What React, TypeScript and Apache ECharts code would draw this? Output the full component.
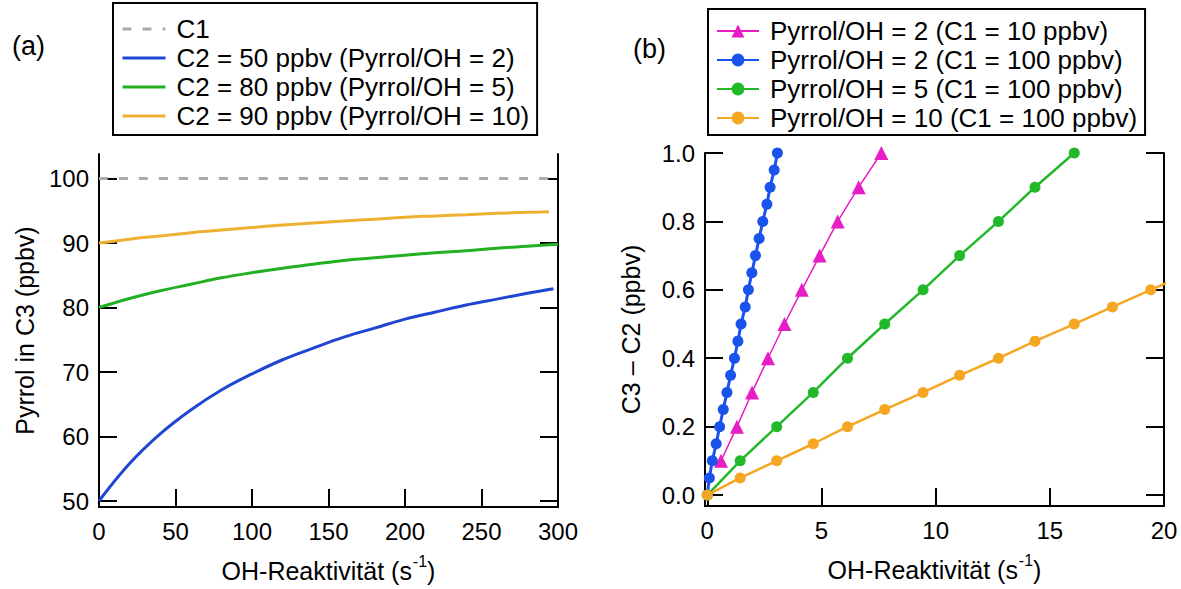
import React, { useEffect, useRef } from "react";
import * as echarts from "echarts";

// ---------- Panel (a) data ----------
const aTicksX = [0, 50, 100, 150, 200, 250, 300];
const aTicksY = [50, 60, 70, 80, 90, 100];
const c1X = [0, 300];
const c1Y = [100, 100];
const c2_50X = [0, 20, 40, 60, 80, 100, 120, 140, 160, 180, 200, 220, 240, 260, 280, 297];
const c2_50Y = [50, 55.8, 60.4, 64.1, 67.2, 69.7, 71.9, 73.7, 75.4, 76.8, 78.2, 79.3, 80.4, 81.3, 82.2, 82.9];
const c2_80X = [0, 20, 40, 60, 80, 100, 120, 140, 160, 180, 200, 220, 240, 260, 280, 300];
const c2_80Y = [80, 81.4, 82.6, 83.6, 84.6, 85.4, 86.1, 86.7, 87.3, 87.7, 88.1, 88.5, 88.8, 89.2, 89.5, 89.8];
const c2_90X = [0, 20, 40, 60, 80, 100, 120, 140, 160, 180, 200, 220, 240, 260, 280, 294];
const c2_90Y = [90, 90.6, 91.1, 91.6, 92.0, 92.4, 92.8, 93.1, 93.4, 93.7, 94.0, 94.2, 94.4, 94.6, 94.75, 94.85];

// ---------- Panel (b) data ----------
const bTicksX = [0, 5, 10, 15, 20];
const bTicksY = [0, 0.2, 0.4, 0.6, 0.8, 1.0];
const mag2X = [0.6, 1.3, 1.96, 2.66, 3.38, 4.14, 4.92, 5.71, 6.63, 7.62];
const mag2Y = [0.1, 0.2, 0.3, 0.4, 0.5, 0.6, 0.7, 0.8, 0.9, 1.0];
const blue2X = [0, 0.09, 0.22, 0.39, 0.54, 0.7, 0.86, 1.02, 1.19, 1.34, 1.48, 1.66, 1.8, 1.95, 2.11, 2.27, 2.43, 2.61, 2.75, 2.93, 3.07];
const blue2Y = [0, 0.05, 0.1, 0.15, 0.2, 0.25, 0.3, 0.35, 0.4, 0.45, 0.5, 0.55, 0.6, 0.65, 0.7, 0.75, 0.8, 0.85, 0.9, 0.95, 1.0];
const green5X = [0, 1.44, 3.04, 4.64, 6.14, 7.77, 9.45, 11.05, 12.75, 14.35, 16.07];
const green5Y = [0, 0.1, 0.2, 0.3, 0.4, 0.5, 0.6, 0.7, 0.8, 0.9, 1.0];
const orange10X = [0, 1.44, 3.04, 4.64, 6.14, 7.77, 9.45, 11.05, 12.75, 14.35, 16.07, 17.74, 19.42, 21.1];
const orange10Y = [0, 0.05, 0.1, 0.15, 0.2, 0.25, 0.3, 0.35, 0.4, 0.45, 0.5, 0.55, 0.6, 0.65];

const FONT = "'Liberation Sans', Arial, sans-serif";
const zip = (xs: number[], ys: number[]) => xs.map((x, i) => [x, ys[i]]);

const xName = "{a|OH-Reaktivität (s}{s|-1}{a|)}";
const nameRich = {
  a: { fontSize: 25, fontFamily: FONT, color: "#000" },
  s: { fontSize: 16, fontFamily: FONT, color: "#000", padding: [0, 0, 20, 1] },
};

function baseX(grid: number, min: number, max: number, ticks: number[]) {
  return {
    type: "value",
    gridIndex: grid,
    min,
    max,
    position: "bottom",
    splitLine: { show: false },
    axisLine: { show: true, onZero: false, lineStyle: { color: "#000", width: 2 } },
    axisTick: { show: true, inside: true, length: 18, lineStyle: { color: "#000", width: 2 }, customValues: ticks },
    axisLabel: { show: true, customValues: ticks, margin: 12, fontSize: 24, fontFamily: FONT, color: "#000" },
    name: xName,
    nameLocation: "middle",
    nameGap: 46,
    nameTextStyle: { rich: nameRich },
  };
}

function baseY(grid: number, min: number, max: number, ticks: number[], pos: string, label: boolean, name: string, fmt?: (v: number) => string) {
  return {
    type: "value",
    gridIndex: grid,
    min,
    max,
    position: pos,
    splitLine: { show: false },
    axisLine: { show: true, onZero: false, lineStyle: { color: "#000", width: 2 } },
    axisTick: { show: true, inside: true, length: 18, lineStyle: { color: "#000", width: 2 }, customValues: ticks },
    axisLabel: {
      show: label,
      customValues: ticks,
      margin: 10,
      fontSize: 24,
      fontFamily: FONT,
      color: "#000",
      formatter: fmt,
    },
    name: label ? name : "",
    nameLocation: "middle",
    nameGap: 62,
    nameTextStyle: { fontSize: 25, fontFamily: FONT, color: "#000" },
  };
}

export default function App() {
  const ref = useRef<HTMLDivElement>(null);
  useEffect(() => {
    if (!ref.current) return;
    const chart = echarts.init(ref.current, null, { renderer: "svg" });
    const lineA = (name: string, xs: number[], ys: number[], color: string, dashed = false) => ({
      type: "line",
      name,
      xAxisIndex: 0,
      yAxisIndex: 0,
      data: zip(xs, ys),
      symbol: "none",
      smooth: 0.4,
      lineStyle: { color, width: 3, type: dashed ? [9, 11] : "solid" },
      itemStyle: { color },
    });
    const lineB = (name: string, xs: number[], ys: number[], color: string, symbol: string, size: number, width: number) => ({
      type: "line",
      name,
      xAxisIndex: 1,
      yAxisIndex: 2,
      data: zip(xs, ys),
      symbol,
      symbolSize: size,
      showSymbol: true,
      lineStyle: { color, width },
      itemStyle: { color, borderWidth: 0 },
    });
    chart.setOption({
      animation: false,
      backgroundColor: "#fff",
      textStyle: { fontFamily: FONT },
      grid: [
        { left: 99, top: 154, width: 459, height: 353 },
        { left: 705, top: 153, width: 459, height: 353 },
      ],
      xAxis: [baseX(0, 0, 300, aTicksX), baseX(1, -0.1, 20, bTicksX)],
      yAxis: [
        baseY(0, 49.07, 103.8, aTicksY, "left", true, "Pyrrol in C3 (ppbv)"),
        baseY(0, 49.07, 103.8, aTicksY, "right", false, ""),
        baseY(1, -0.032, 1.0, bTicksY, "left", true, "C3 – C2 (ppbv)", (v: number) => v.toFixed(1)),
        baseY(1, -0.032, 1.0, bTicksY, "right", false, ""),
      ],
      legend: [
        {
          left: 113,
          top: 3,
          orient: "vertical",
          selectedMode: false,
          data: ["C1", "C2 = 50 ppbv (Pyrrol/OH = 2)", "C2 = 80 ppbv (Pyrrol/OH = 5)", "C2 = 90 ppbv (Pyrrol/OH = 10)"],
          itemWidth: 43,
          itemHeight: 14,
          itemGap: 3,
          padding: [13, 8, 6, 8],
          borderColor: "#000",
          borderWidth: 2,
          backgroundColor: "#fff",
          itemStyle: { opacity: 0 },
          lineStyle: { width: 3 },
          textStyle: { fontSize: 26, fontFamily: FONT, color: "#000", padding: [0, 0, 0, 6] },
        },
        {
          left: 708,
          top: 9,
          orient: "vertical",
          selectedMode: false,
          data: [
            "Pyrrol/OH = 2 (C1 = 10 ppbv)",
            "Pyrrol/OH = 2 (C1 = 100 ppbv)",
            "Pyrrol/OH = 5 (C1 = 100 ppbv)",
            "Pyrrol/OH = 10 (C1 = 100 ppbv)",
          ],
          itemWidth: 42,
          itemHeight: 16,
          itemGap: 3,
          padding: [9, 8, 4, 8],
          borderColor: "#000",
          borderWidth: 2,
          backgroundColor: "#fff",
          textStyle: { fontSize: 26, fontFamily: FONT, color: "#000", padding: [0, 0, 0, 6] },
        },
      ],
      graphic: [
        { type: "text", left: 12, top: 32, style: { text: "(a)", fontSize: 27, fontFamily: FONT, fill: "#000" } },
        { type: "text", left: 633, top: 35, style: { text: "(b)", fontSize: 27, fontFamily: FONT, fill: "#000" } },
      ],
      series: [
        lineA("C1", c1X, c1Y, "#aaaaaa", true),
        lineA("C2 = 50 ppbv (Pyrrol/OH = 2)", c2_50X, c2_50Y, "#1f45d2"),
        lineA("C2 = 80 ppbv (Pyrrol/OH = 5)", c2_80X, c2_80Y, "#22b022"),
        lineA("C2 = 90 ppbv (Pyrrol/OH = 10)", c2_90X, c2_90Y, "#eeb030"),
        lineB("Pyrrol/OH = 2 (C1 = 10 ppbv)", mag2X, mag2Y, "#e61ec4", "triangle", 14, 1.5),
        lineB("Pyrrol/OH = 2 (C1 = 100 ppbv)", blue2X, blue2Y, "#1a52ec", "circle", 11, 3),
        lineB("Pyrrol/OH = 5 (C1 = 100 ppbv)", green5X, green5Y, "#22b82a", "circle", 11, 2.5),
        lineB("Pyrrol/OH = 10 (C1 = 100 ppbv)", orange10X, orange10Y, "#f5a623", "circle", 11, 2.5),
      ],
    });
    return () => chart.dispose();
  }, []);
  return <div ref={ref} style={{ position: "fixed", left: 0, top: 0, width: 1181, height: 589 }} />;
}
